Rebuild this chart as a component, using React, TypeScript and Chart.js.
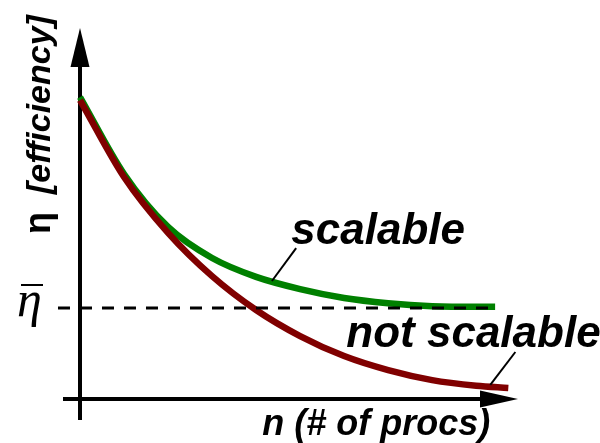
import React, { useEffect, useRef } from "react";
import { Chart, registerables } from "chart.js";
Chart.register(...registerables);

// ---- data (schematic units: n in 0..100, efficiency in 0..100) ----
const scalableN = [0, 10, 20, 30, 40, 50, 60, 70, 80, 90, 94.3];
const scalableEff = [81.6, 60.8, 46.5, 38.1, 33.0, 29.7, 27.3, 25.9, 25.1, 24.9, 24.9];
const notScalableN = [0, 10, 20, 30, 40, 50, 60, 70, 80, 90, 97.3];
const notScalableEff = [80.8, 60.0, 44.9, 33.2, 24.05, 17.0, 11.6, 7.8, 5.1, 3.6, 3.0];
const etaBar = 24.6;
const etaBarRange = [-5, 94.3];

// annotation texts and anchors (data units)
const curveLabels = ["scalable", "not scalable"];
const labelAnchorN = [48, 60.5];
const labelAnchorEff = [41.9, 14.1];
const leaderFromN = [43.6, 93.2];
const leaderFromEff = [31.9, 3.8];
const leaderToN = [49.1, 98.9];
const leaderToEff = [40.8, 12.7];
const xAxisTitle = "n (# of procs)";
const yAxisSymbol = "η";
const yAxisTitle = "[efficiency]";
const etaBarSymbol = "η";

const GREEN = "#008000";
const RED = "#800000";

const decorPlugin = {
  id: "decor",
  beforeDatasetsDraw(chart: any) {
    const { ctx, chartArea } = chart;
    const { left, right, top, bottom } = chartArea;
    ctx.save();
    ctx.strokeStyle = "#000";
    ctx.fillStyle = "#000";
    ctx.lineWidth = 4;
    // y axis
    ctx.beginPath();
    ctx.moveTo(left, bottom + 21);
    ctx.lineTo(left, top + 36);
    ctx.stroke();
    ctx.beginPath();
    ctx.moveTo(left, top - 1);
    ctx.lineTo(left - 9.5, top + 38);
    ctx.lineTo(left + 9.5, top + 38);
    ctx.closePath();
    ctx.fill();
    // x axis
    ctx.beginPath();
    ctx.moveTo(left - 17, bottom);
    ctx.lineTo(right - 36, bottom);
    ctx.stroke();
    ctx.beginPath();
    ctx.moveTo(right, bottom);
    ctx.lineTo(right - 38, bottom - 8.5);
    ctx.lineTo(right - 38, bottom + 8.5);
    ctx.closePath();
    ctx.fill();
    ctx.restore();
  },
  afterDatasetsDraw(chart: any) {
    const { ctx, chartArea, scales } = chart;
    const { left, bottom } = chartArea;
    const xs = scales.x;
    const ys = scales.y;
    ctx.save();
    ctx.fillStyle = "#000";
    ctx.strokeStyle = "#000";
    // curve labels
    ctx.font = "italic bold 44px 'Liberation Sans', Arial, sans-serif";
    ctx.textAlign = "left";
    ctx.textBaseline = "alphabetic";
    curveLabels.forEach((t, i) => {
      ctx.fillText(t, xs.getPixelForValue(labelAnchorN[i]), ys.getPixelForValue(labelAnchorEff[i]));
    });
    // leader lines
    ctx.lineWidth = 2;
    curveLabels.forEach((_, i) => {
      ctx.beginPath();
      ctx.moveTo(xs.getPixelForValue(leaderFromN[i]), ys.getPixelForValue(leaderFromEff[i]));
      ctx.lineTo(xs.getPixelForValue(leaderToN[i]), ys.getPixelForValue(leaderToEff[i]));
      ctx.stroke();
    });
    // x axis title
    ctx.font = "italic bold 36px 'Liberation Sans', Arial, sans-serif";
    ctx.textAlign = "center";
    ctx.fillText(xAxisTitle, xs.getPixelForValue(67.3), bottom + 36);
    // y axis title (rotated)
    ctx.save();
    ctx.translate(left - 30, ys.getPixelForValue(44.6));
    ctx.rotate(-Math.PI / 2);
    ctx.font = "bold 36px 'Liberation Sans', Arial, sans-serif";
    ctx.textAlign = "left";
    ctx.fillText(yAxisSymbol, 0, 0);
    ctx.font = "italic bold 34px 'Liberation Sans', Arial, sans-serif";
    ctx.fillText(yAxisTitle, 40, 0);
    ctx.restore();
    // eta bar
    const ey = ys.getPixelForValue(etaBar);
    ctx.font = "italic 50px 'Liberation Serif', 'DejaVu Serif', serif";
    ctx.textAlign = "left";
    ctx.fillText(etaBarSymbol, left - 63, ey + 8);
    ctx.lineWidth = 2;
    ctx.beginPath();
    ctx.moveTo(left - 59, ey - 23);
    ctx.lineTo(left - 37, ey - 23);
    ctx.stroke();
    ctx.restore();
  },
};

export default function App() {
  const ref = useRef<HTMLCanvasElement | null>(null);
  useEffect(() => {
    if (!ref.current) return;
    const chart = new Chart(ref.current, {
      type: "line",
      data: {
        datasets: [
          {
            label: "eta bar",
            data: etaBarRange.map((n) => ({ x: n, y: etaBar })),
            borderColor: "#000",
            borderWidth: 3,
            borderDash: [12, 10],
            pointRadius: 0,
            clip: false as any,
            order: 0,
          },
          {
            label: "not scalable",
            data: notScalableN.map((n, i) => ({ x: n, y: notScalableEff[i] })),
            borderColor: RED,
            borderWidth: 6.5,
            pointRadius: 0,
            cubicInterpolationMode: "monotone",
            clip: false as any,
            order: 1,
          },
          {
            label: "scalable",
            data: scalableN.map((n, i) => ({ x: n, y: scalableEff[i] })),
            borderColor: GREEN,
            borderWidth: 6.5,
            pointRadius: 0,
            cubicInterpolationMode: "monotone",
            clip: false as any,
            order: 2,
          },
        ],
      },
      options: {
        animation: false,
        responsive: true,
        maintainAspectRatio: false,
        layout: { padding: { left: 80, right: 82, top: 29, bottom: 44 } },
        plugins: { legend: { display: false }, tooltip: { enabled: false } },
        scales: {
          x: { type: "linear", min: 0, max: 99.5, display: false },
          y: { type: "linear", min: 0, max: 100, display: false },
        },
      },
      plugins: [decorPlugin],
    });
    return () => chart.destroy();
  }, []);
  return (
    <div style={{ position: "absolute", left: 0, top: 0, width: 600, height: 443, background: "#fff" }}>
      <canvas ref={ref} />
    </div>
  );
}
